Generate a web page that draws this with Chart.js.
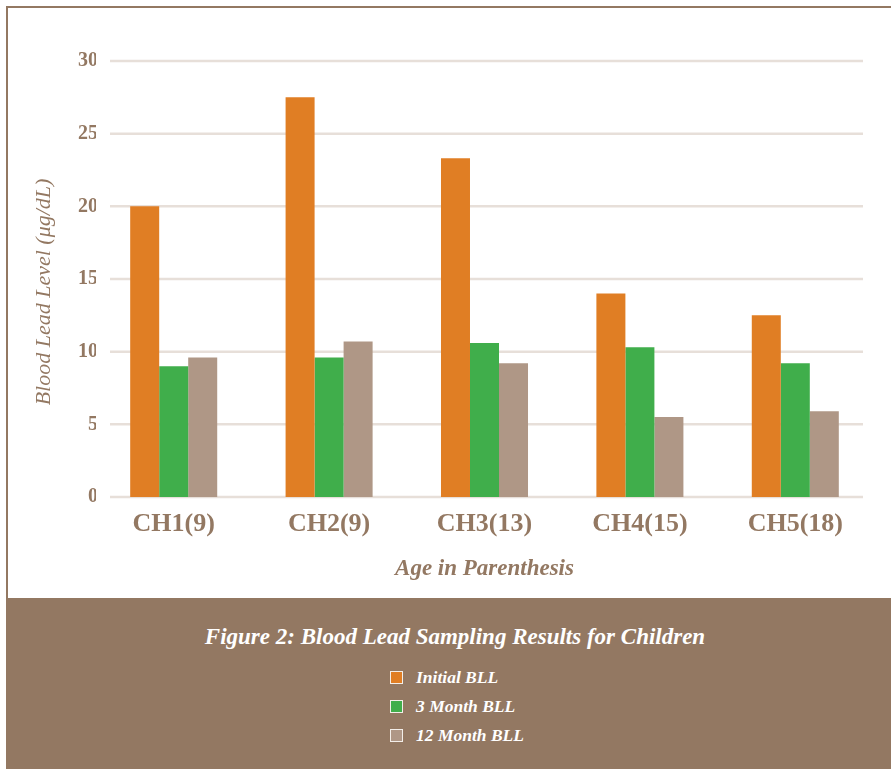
<!DOCTYPE html>
<html>
<head>
<meta charset="utf-8">
<script src="https://cdn.jsdelivr.net/npm/chart.js@4/dist/chart.umd.min.js"></script>
<style>
  html, body { margin: 0; padding: 0; background: #fff; }
  #wrap { position: relative; width: 891px; height: 770px; overflow: hidden; }
  #frame {
    position: absolute; left: 6px; top: 6px; width: 900px; height: 600px;
    border-left: 2.5px solid #937862; border-top: 2.5px solid #937862; box-sizing: border-box;
  }
  #c { position: absolute; left: 0; top: 0; }
  #panel {
    position: absolute; left: 6px; top: 598px; width: 885px; height: 171px;
    background: #937862; color: #fff;
    font-family: "Liberation Serif", serif; font-style: italic; font-weight: bold;
  }
  #caption {
    position: absolute; left: 0; top: 25px; width: 100%; box-sizing: border-box;
    padding-left: 13px; text-align: center; font-size: 23px; line-height: 28px;
  }
  #legend { position: absolute; left: 384px; top: 0; }
  .item {
    position: absolute; left: 0; height: 20px; display: flex; align-items: center;
    white-space: nowrap; font-size: 17.5px;
  }
  .swatch {
    width: 13px; height: 13px; box-sizing: border-box; border: 1.5px solid #f3eee9;
    margin-right: 13px; flex: none;
  }
</style>
</head>
<body>
<div id="wrap">
  <div id="frame"></div>
  <canvas id="c" width="891" height="598"></canvas>
  <div id="panel">
    <div id="caption">Figure 2: Blood Lead Sampling Results for Children</div>
    <div id="legend"></div>
  </div>
</div>
<script>
// Children sampled, with age in parentheses
const categories = ['CH1(9)', 'CH2(9)', 'CH3(13)', 'CH4(15)', 'CH5(18)'];

// Blood lead levels in µg/dL
const initialBLL = [20.0, 27.5, 23.3, 14.0, 12.5];
const month3BLL  = [9.0, 9.6, 10.6, 10.3, 9.2];
const month12BLL = [9.6, 10.7, 9.2, 5.5, 5.9];

const seriesNames  = ['Initial BLL', '3 Month BLL', '12 Month BLL'];
const seriesColors = ['#e07e24', '#40ae4b', '#af9786'];
const yTicks = [0, 5, 10, 15, 20, 25, 30];
const yTitle = 'Blood Lead Level (μg/dL)';

const brown = '#937862';
const serif = '"Liberation Serif", "Times New Roman", serif';

// Horizontal guide lines, slightly inset from the plot edges
const hGrid = {
  id: 'hGrid',
  beforeDatasetsDraw(chart) {
    const { ctx, chartArea, scales: { y } } = chart;
    ctx.save();
    ctx.strokeStyle = '#e7dfd9';
    ctx.lineWidth = 2.5;
    y.ticks.forEach(t => {
      const py = y.getPixelForValue(t.value);
      ctx.beginPath();
      ctx.moveTo(chartArea.left + 14, py);
      ctx.lineTo(chartArea.right - 10, py);
      ctx.stroke();
    });
    ctx.restore();
  }
};

// Rotated value-axis title, sitting a little below the plot's middle
const yAxisTitle = {
  id: 'yAxisTitle',
  afterDraw(chart) {
    const { ctx, chartArea } = chart;
    ctx.save();
    ctx.translate(44, (chartArea.top + chartArea.bottom) / 2 + 13);
    ctx.rotate(-Math.PI / 2);
    ctx.fillStyle = brown;
    ctx.font = 'italic 22px ' + serif;
    ctx.textAlign = 'center';
    ctx.textBaseline = 'middle';
    ctx.fillText(yTitle, 0, 0);
    ctx.restore();
  }
};

const series = [initialBLL, month3BLL, month12BLL];

new Chart(document.getElementById('c'), {
  type: 'bar',
  data: {
    labels: categories,
    datasets: series.map((d, i) => ({
      label: seriesNames[i],
      data: d,
      backgroundColor: seriesColors[i],
      borderWidth: 0,
      categoryPercentage: 0.56,
      barPercentage: 1.0
    }))
  },
  options: {
    responsive: false,
    animation: false,
    devicePixelRatio: 1,
    layout: { padding: { left: 0, right: 18, top: 61, bottom: 0 } },
    plugins: { legend: { display: false }, tooltip: { enabled: false } },
    scales: {
      x: {
        grid: { display: false },
        border: { display: false },
        ticks: { color: brown, font: { family: serif, size: 26, weight: 'bold' }, padding: 4 },
        title: {
          display: true, text: 'Age in Parenthesis', color: brown,
          font: { family: serif, size: 23, style: 'italic', weight: 'bold' },
          padding: { top: 0, bottom: 15 }
        },
        afterFit(s) { s.height = 101; }
      },
      y: {
        min: 0, max: 30,
        afterBuildTicks(s) { s.ticks = yTicks.map(v => ({ value: v })); },
        grid: { display: false, drawTicks: false },
        border: { display: false },
        ticks: { color: brown, font: { family: serif, size: 20, weight: 'bold' }, padding: -2 },
        title: { display: false },
        afterFit(s) { s.width = 96; }
      }
    }
  },
  plugins: [hGrid, yAxisTitle]
});

// Legend entries below the caption
const legend = document.getElementById('legend');
const rowCenters = [79, 108, 137];
seriesNames.forEach((name, i) => {
  const item = document.createElement('div');
  item.className = 'item';
  item.style.top = (rowCenters[i] - 10) + 'px';
  const sw = document.createElement('span');
  sw.className = 'swatch';
  sw.style.background = seriesColors[i];
  const tx = document.createElement('span');
  tx.textContent = name;
  item.appendChild(sw);
  item.appendChild(tx);
  legend.appendChild(item);
});
</script>
</body>
</html>
